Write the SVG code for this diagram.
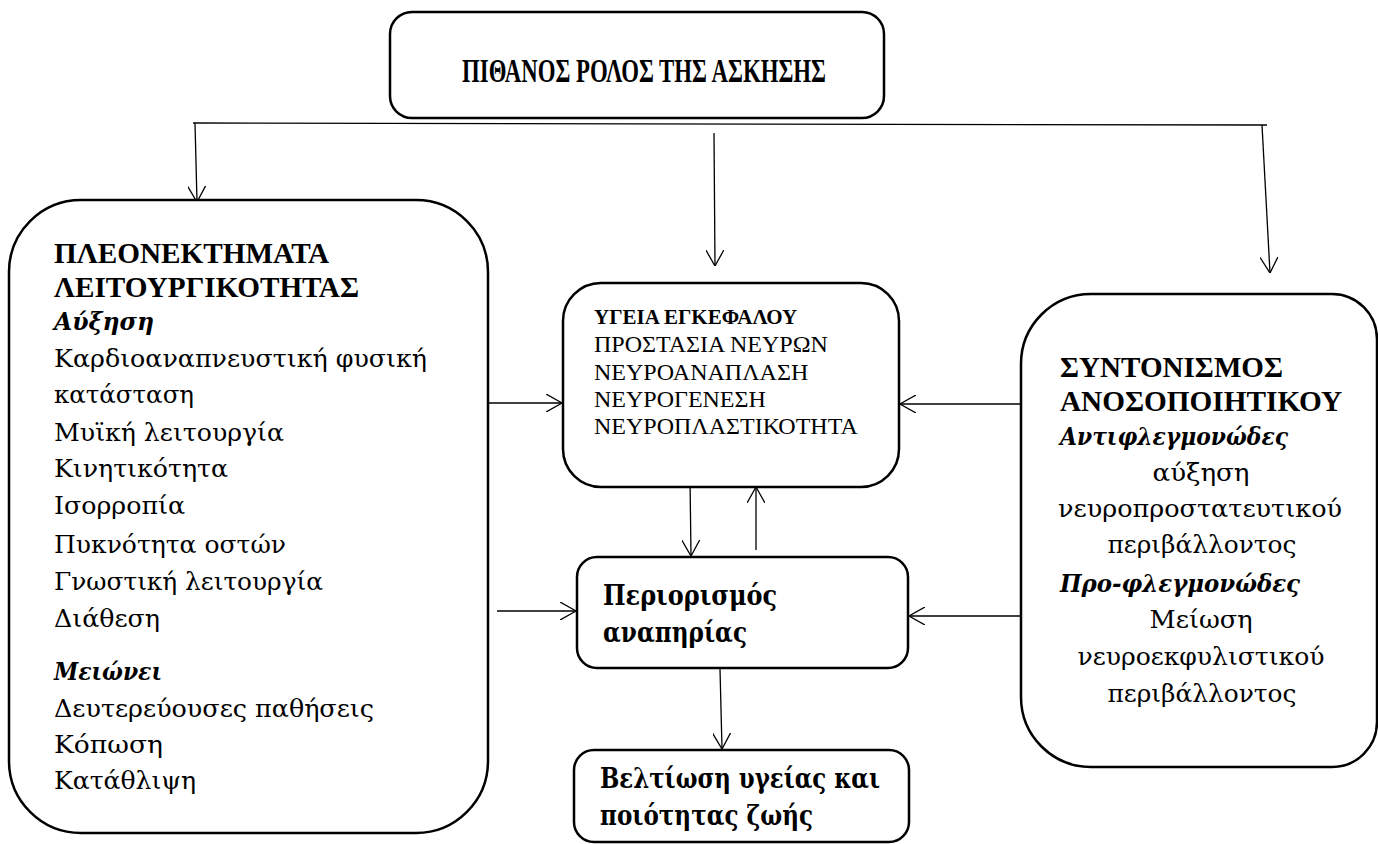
<svg xmlns="http://www.w3.org/2000/svg" width="1378" height="844" viewBox="0 0 1378 844">
<defs>
<style>
.box{fill:#fff;stroke:#000;stroke-width:2.5}
.con{fill:none;stroke:#000;stroke-width:1.3}
text{font-family:"Liberation Serif","Times New Roman",serif;fill:#000}
.g{font-family:"DejaVu Serif","Liberation Serif",serif}
.b{font-weight:bold}
.bi{font-weight:bold;font-style:italic}
.r{font-size:24.5px}
.h{font-size:29px}
.c{text-anchor:middle}
</style>
<marker id="ah" viewBox="0 0 16 18" refX="16" refY="9" markerWidth="16" markerHeight="18" markerUnits="userSpaceOnUse" orient="auto">
<path d="M0,0 L16,9 L0,18" fill="none" stroke="#000" stroke-width="1.3"/>
</marker>
</defs>
<rect width="1378" height="844" fill="#fff"/>

<g id="connectors">
<path class="con" d="M193,123 L1267,125"/>
<path class="con" d="M195,123 L197,202" marker-end="url(#ah)"/>
<path class="con" d="M714,133 L715,266" marker-end="url(#ah)"/>
<path class="con" d="M1262,125 L1270,273" marker-end="url(#ah)"/>
<path class="con" d="M487,403 L562,403" marker-end="url(#ah)"/>
<path class="con" d="M1029,404 L900,404" marker-end="url(#ah)"/>
<path class="con" d="M690,478 L691,556" marker-end="url(#ah)"/>
<path class="con" d="M756,550 L756,487" marker-end="url(#ah)"/>
<path class="con" d="M497,611 L576,611" marker-end="url(#ah)"/>
<path class="con" d="M1031,616 L909,616" marker-end="url(#ah)"/>
<path class="con" d="M720,669 L722,749" marker-end="url(#ah)"/>
</g>

<g id="top">
<rect class="box" x="390" y="12" width="494" height="106" rx="22"/>
<text class="b" x="462" y="82" font-size="34" textLength="364" lengthAdjust="spacingAndGlyphs">ΠΙΘΑΝΟΣ ΡΟΛΟΣ ΤΗΣ ΑΣΚΗΣΗΣ</text>
</g>

<g id="left">
<rect class="box" x="9" y="200" width="479" height="633" rx="72"/>
<text class="b h" x="54" y="263" textLength="275" lengthAdjust="spacingAndGlyphs">ΠΛΕΟΝΕΚΤΗΜΑΤΑ</text>
<text class="b h" x="54" y="297" textLength="305" lengthAdjust="spacingAndGlyphs">ΛΕΙΤΟΥΡΓΙΚΟΤΗΤΑΣ</text>
<text class="g bi" x="54" y="330" font-size="25" textLength="100" lengthAdjust="spacingAndGlyphs">Αύξηση</text>
<text class="g r" x="54" y="367" textLength="373" lengthAdjust="spacingAndGlyphs">Καρδιοαναπνευστική φυσική</text>
<text class="g r" x="54" y="403" textLength="140" lengthAdjust="spacingAndGlyphs">κατάσταση</text>
<text class="g r" x="54" y="441" textLength="230" lengthAdjust="spacingAndGlyphs">Μυϊκή λειτουργία</text>
<text class="g r" x="54" y="477" textLength="174" lengthAdjust="spacingAndGlyphs">Κινητικότητα</text>
<text class="g r" x="54" y="514" textLength="131" lengthAdjust="spacingAndGlyphs">Ισορροπία</text>
<text class="g r" x="54" y="553" textLength="232" lengthAdjust="spacingAndGlyphs">Πυκνότητα οστών</text>
<text class="g r" x="54" y="590" textLength="269" lengthAdjust="spacingAndGlyphs">Γνωστική λειτουργία</text>
<text class="g r" x="54" y="627" textLength="106" lengthAdjust="spacingAndGlyphs">Διάθεση</text>
<text class="g bi" x="54" y="680" font-size="25" textLength="108" lengthAdjust="spacingAndGlyphs">Μειώνει</text>
<text class="g r" x="54" y="717" textLength="320" lengthAdjust="spacingAndGlyphs">Δευτερεύουσες παθήσεις</text>
<text class="g r" x="54" y="753" textLength="109" lengthAdjust="spacingAndGlyphs">Κόπωση</text>
<text class="g r" x="54" y="789" textLength="142" lengthAdjust="spacingAndGlyphs">Κατάθλιψη</text>
</g>

<g id="brain">
<rect class="box" x="563" y="283" width="336" height="204" rx="38"/>
<text class="b" x="594" y="324" font-size="21">ΥΓΕΙΑ ΕΓΚΕΦΑΛΟΥ</text>
<text x="594" y="352" font-size="24">ΠΡΟΣΤΑΣΙΑ ΝΕΥΡΩΝ</text>
<text x="594" y="380" font-size="24">ΝΕΥΡΟΑΝΑΠΛΑΣΗ</text>
<text x="594" y="407" font-size="24">ΝΕΥΡΟΓΕΝΕΣΗ</text>
<text x="594" y="434" font-size="24">ΝΕΥΡΟΠΛΑΣΤΙΚΟΤΗΤΑ</text>
</g>

<g id="disability">
<rect class="box" x="577" y="557" width="331" height="111" rx="20"/>
<text class="g b" x="603" y="605" font-size="27" textLength="174" lengthAdjust="spacingAndGlyphs">Περιορισμός</text>
<text class="g b" x="603" y="642" font-size="27" textLength="144" lengthAdjust="spacingAndGlyphs">αναπηρίας</text>
</g>

<g id="quality">
<rect class="box" x="574" y="750" width="335" height="92" rx="20"/>
<text class="g b" x="600" y="788" font-size="27" textLength="280" lengthAdjust="spacingAndGlyphs">Βελτίωση υγείας και</text>
<text class="g b" x="600" y="825" font-size="27" textLength="213" lengthAdjust="spacingAndGlyphs">ποιότητας ζωής</text>
</g>

<g id="immune">
<path class="box" d="M1091,294 L1332,294 A45,45 0 0 1 1377,339 L1377,722 A45,45 0 0 1 1332,767 L1091,767 A70,70 0 0 1 1021,697 L1021,364 A70,70 0 0 1 1091,294 Z"/>
<text class="b h" x="1060" y="377" textLength="223" lengthAdjust="spacingAndGlyphs">ΣΥΝΤΟΝΙΣΜΟΣ</text>
<text class="b h" x="1060" y="411" textLength="282" lengthAdjust="spacingAndGlyphs">ΑΝΟΣΟΠΟΙΗΤΙΚΟΥ</text>
<text class="g bi" x="1060" y="445" font-size="25" textLength="228" lengthAdjust="spacingAndGlyphs">Αντιφλεγμονώδες</text>
<text class="g r c" x="1201" y="481" textLength="97" lengthAdjust="spacingAndGlyphs">αύξηση</text>
<text class="g r c" x="1200" y="517" textLength="284" lengthAdjust="spacingAndGlyphs">νευροπροστατευτικού</text>
<text class="g r c" x="1202" y="553" textLength="189" lengthAdjust="spacingAndGlyphs">περιβάλλοντος</text>
<text class="g bi" x="1060" y="592" font-size="25" textLength="240" lengthAdjust="spacingAndGlyphs">Προ-φλεγμονώδες</text>
<text class="g r c" x="1201" y="628" textLength="103" lengthAdjust="spacingAndGlyphs">Μείωση</text>
<text class="g r c" x="1201" y="665" textLength="247" lengthAdjust="spacingAndGlyphs">νευροεκφυλιστικού</text>
<text class="g r c" x="1202" y="702" textLength="189" lengthAdjust="spacingAndGlyphs">περιβάλλοντος</text>
</g>
</svg>
